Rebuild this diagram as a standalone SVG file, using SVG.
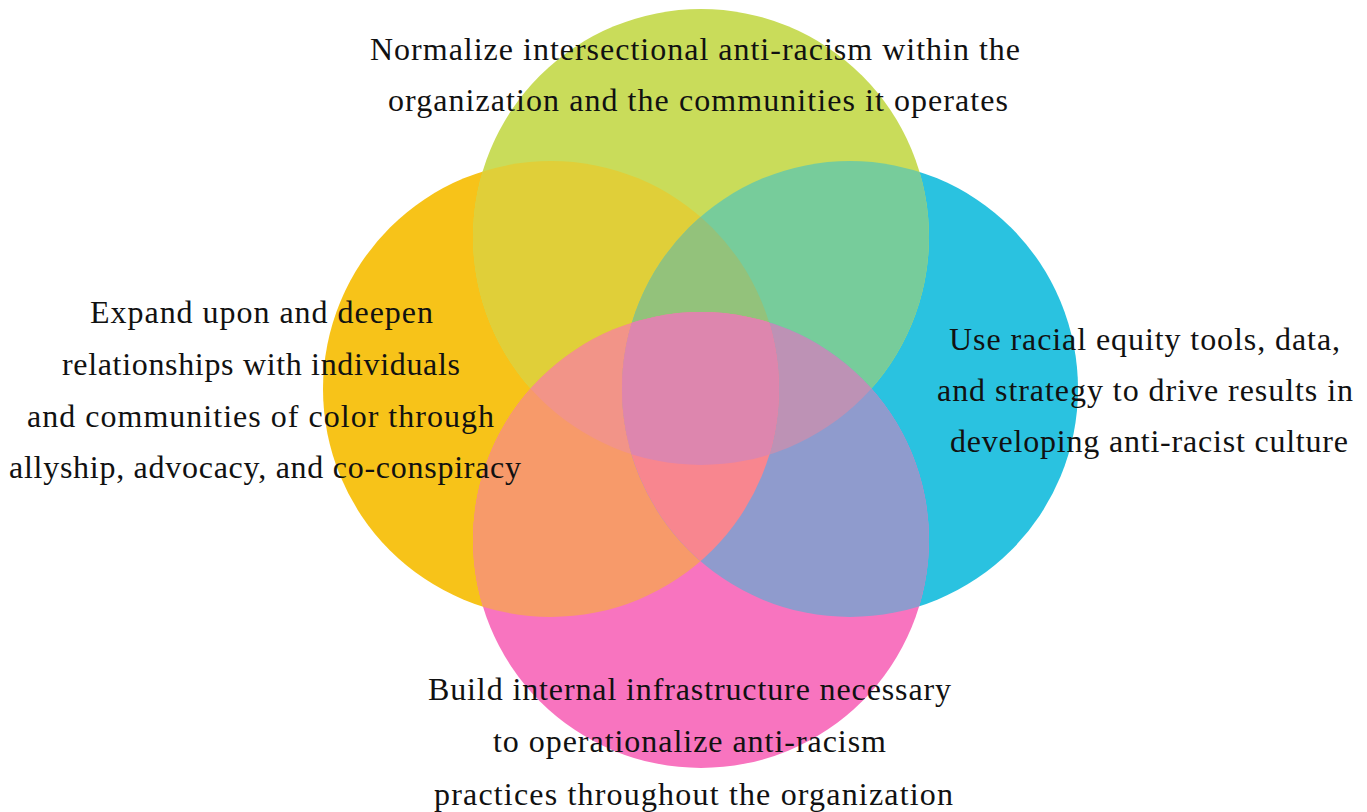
<svg xmlns="http://www.w3.org/2000/svg" width="1367" height="812" viewBox="0 0 1367 812">
<style>
text{font-family:"Liberation Serif","DejaVu Serif",serif;font-size:32px;fill:#111}
</style>
<defs>
<clipPath id="cO"><circle cx="551" cy="389" r="228"/></clipPath>
<clipPath id="cG"><circle cx="701" cy="237" r="228"/></clipPath>
<clipPath id="cC"><circle cx="850" cy="389" r="228"/></clipPath>
<clipPath id="cP"><circle cx="701" cy="540" r="228"/></clipPath>
</defs>
<rect width="1367" height="812" fill="#fff"/>
<g id="circles">
<circle cx="551" cy="389" r="228" fill="#f7c319"/>
<circle cx="850" cy="389" r="228" fill="#2ac2e0"/>
<circle cx="701" cy="237" r="228" fill="#c9dc5a"/>
<circle cx="701" cy="540" r="228" fill="#f874bf"/>
<g clip-path="url(#cO)"><circle cx="701" cy="237" r="228" fill="#e0cf39"/></g>
<g clip-path="url(#cG)"><circle cx="850" cy="389" r="228" fill="#77cc9b"/></g>
<g clip-path="url(#cO)"><circle cx="701" cy="540" r="228" fill="#f79a6a"/></g>
<g clip-path="url(#cC)"><circle cx="701" cy="540" r="228" fill="#8f9bcd"/></g>
<g clip-path="url(#cO)"><g clip-path="url(#cG)"><circle cx="701" cy="540" r="228" fill="#f29488"/></g></g>
<g clip-path="url(#cO)"><g clip-path="url(#cG)"><circle cx="850" cy="389" r="228" fill="#93c27b"/></g></g>
<g clip-path="url(#cG)"><g clip-path="url(#cC)"><circle cx="701" cy="540" r="228" fill="#bd92b5"/></g></g>
<g clip-path="url(#cO)"><g clip-path="url(#cC)"><circle cx="701" cy="540" r="228" fill="#f8868f"/></g></g>
<g clip-path="url(#cO)"><g clip-path="url(#cG)"><g clip-path="url(#cC)"><circle cx="701" cy="540" r="228" fill="#dd86ae"/></g></g></g>
</g>
<g id="top">
<text x="370" y="60" textLength="650" lengthAdjust="spacing">Normalize intersectional anti-racism within the</text>
<text x="388" y="111" textLength="620" lengthAdjust="spacing">organization and the communities it operates</text>
</g>
<g id="left">
<text x="90" y="323" textLength="343" lengthAdjust="spacing">Expand upon and deepen</text>
<text x="62" y="375" textLength="398" lengthAdjust="spacing">relationships with individuals</text>
<text x="27" y="427" textLength="467" lengthAdjust="spacing">and communities of color through</text>
<text x="9" y="478" textLength="512" lengthAdjust="spacing">allyship, advocacy, and co-conspiracy</text>
</g>
<g id="right">
<text x="949" y="350" textLength="391" lengthAdjust="spacing">Use racial equity tools, data,</text>
<text x="937" y="401" textLength="416" lengthAdjust="spacing">and strategy to drive results in</text>
<text x="950" y="452" textLength="398" lengthAdjust="spacing">developing anti-racist culture</text>
</g>
<g id="bottom">
<text x="428" y="700" textLength="523" lengthAdjust="spacing">Build internal infrastructure necessary</text>
<text x="493" y="752" textLength="393" lengthAdjust="spacing">to operationalize anti-racism</text>
<text x="434" y="805" textLength="519" lengthAdjust="spacing">practices throughout the organization</text>
</g>
</svg>
